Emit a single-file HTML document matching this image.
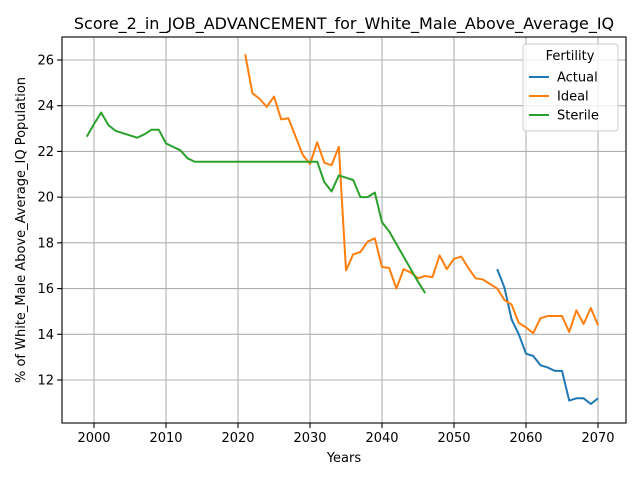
<!DOCTYPE html>
<html><head><meta charset="utf-8"><style>
body{margin:0;background:#fff;font-family:"Liberation Sans","DejaVu Sans",sans-serif}
svg text{font-family:"DejaVu Sans","Liberation Sans",sans-serif}
</style></head><body>
<svg id="c" width="640" height="480"></svg>
<script>
const sterileYears=[1999,2000,2001,2002,2003,2004,2005,2006,2007,2008,2009,2010,2011,2012,2013,2014,2015,2016,2017,2018,2019,2020,2021,2022,2023,2024,2025,2026,2027,2028,2029,2030,2031,2032,2033,2034,2035,2036,2037,2038,2039,2040,2041,2042,2043,2044,2045,2046];
const sterileVals=[22.65,23.2,23.7,23.15,22.9,22.8,22.7,22.6,22.75,22.95,22.95,22.35,22.2,22.05,21.7,21.55,21.55,21.55,21.55,21.55,21.55,21.55,21.55,21.55,21.55,21.55,21.55,21.55,21.55,21.55,21.55,21.55,21.55,20.65,20.25,20.95,20.85,20.75,20.0,20.0,20.2,18.9,18.5,17.95,17.4,16.85,16.3,15.8];
const idealYears=[2021,2022,2023,2024,2025,2026,2027,2028,2029,2030,2031,2032,2033,2034,2035,2036,2037,2038,2039,2040,2041,2042,2043,2044,2045,2046,2047,2048,2049,2050,2051,2052,2053,2054,2055,2056,2057,2058,2059,2060,2061,2062,2063,2064,2065,2066,2067,2068,2069,2070];
const idealVals=[26.25,24.55,24.3,23.95,24.4,23.4,23.45,22.65,21.85,21.45,22.4,21.5,21.4,22.2,16.8,17.5,17.6,18.05,18.2,16.95,16.9,16.0,16.85,16.7,16.45,16.55,16.5,17.45,16.85,17.3,17.4,16.9,16.45,16.4,16.2,16.0,15.5,15.3,14.5,14.3,14.05,14.7,14.8,14.8,14.8,14.1,15.05,14.45,15.15,14.4];
const actualYears=[2056,2057,2058,2059,2060,2061,2062,2063,2064,2065,2066,2067,2068,2069,2070];
const actualVals=[16.85,16.05,14.65,14.0,13.15,13.05,12.65,12.55,12.4,12.4,11.1,11.2,11.2,10.95,11.2];
const xTicks=[2000,2010,2020,2030,2040,2050,2060,2070];
const yTicks=[12,14,16,18,20,22,24,26];
const L=62,R=626,T=37,B=423;
const x=v=>94+(v-2000)*7.2;
const y=v=>380-(v-12)*22.857;
const svg=document.getElementById('c');
const NS='http://www.w3.org/2000/svg';
function add(tag,attrs,parent){const e=document.createElementNS(NS,tag);for(const k in attrs)e.setAttribute(k,attrs[k]);(parent||svg).appendChild(e);return e;}
const grid=add('g',{});


xTicks.forEach(t=>{
  add('line',{x1:x(t),x2:x(t),y1:T,y2:B,stroke:'#b0b0b0','stroke-width':1.1},grid);
  add('line',{x1:x(t),x2:x(t),y1:B,y2:B+4.9,stroke:'#000','stroke-width':1.1});
  const tx=add('text',{x:x(t),y:B+19,'text-anchor':'middle','font-size':13});
  tx.textContent=t;
  
  
});
yTicks.forEach(t=>{
  add('line',{x1:L,x2:R,y1:y(t),y2:y(t),stroke:'#b0b0b0','stroke-width':1.1},grid);
  add('line',{x1:L-4.9,x2:L,y1:y(t),y2:y(t),stroke:'#000','stroke-width':1.1});
  const tx=add('text',{x:L-8,y:y(t)+4.5,'text-anchor':'end','font-size':13});
  tx.textContent=t;
  
  
});
function series(xs,vs,color,name){
  const p=add('polyline',{points:xs.map((v,i)=>x(v)+','+y(vs[i])).join(' '),fill:'none',stroke:color,'stroke-width':2,'stroke-linejoin':'round'});
  
  
}
series(actualYears,actualVals,'#1f77b4','actual-line');
series(idealYears,idealVals,'#ff7f0e','ideal-line');
series(sterileYears,sterileVals,'#2ca02c','sterile-line');
const frame=add('rect',{x:L,y:T,width:R-L,height:B-T,fill:'none',stroke:'#000','stroke-width':1.1});


const title=add('text',{x:344,y:29,'text-anchor':'middle','font-size':16});
title.textContent='Score_2_in_JOB_ADVANCEMENT_for_White_Male_Above_Average_IQ';


const xl=add('text',{x:344,y:462,'text-anchor':'middle','font-size':13});
xl.textContent='Years';


const yl=add('text',{x:0,y:0,'text-anchor':'middle','font-size':13,transform:'translate(25,230) rotate(-90)'});
yl.textContent='% of White_Male Above_Average_IQ Population';


const lg=add('g',{});


add('rect',{x:523,y:44,width:95,height:87,rx:3,fill:'#fff','fill-opacity':0.8,stroke:'#ccc'},lg);
const lt=add('text',{x:570,y:60,'text-anchor':'middle','font-size':13},lg);
lt.textContent='Fertility';
[['Actual','#1f77b4'],['Ideal','#ff7f0e'],['Sterile','#2ca02c']].forEach((d,i)=>{
  const yy=77+i*19;
  add('line',{x1:529,x2:549,y1:yy,y2:yy,stroke:d[1],'stroke-width':2},lg);
  const t=add('text',{x:557,y:yy+4.5,'font-size':13},lg);
  t.textContent=d[0];
  
  
});
</script>
</body></html>
